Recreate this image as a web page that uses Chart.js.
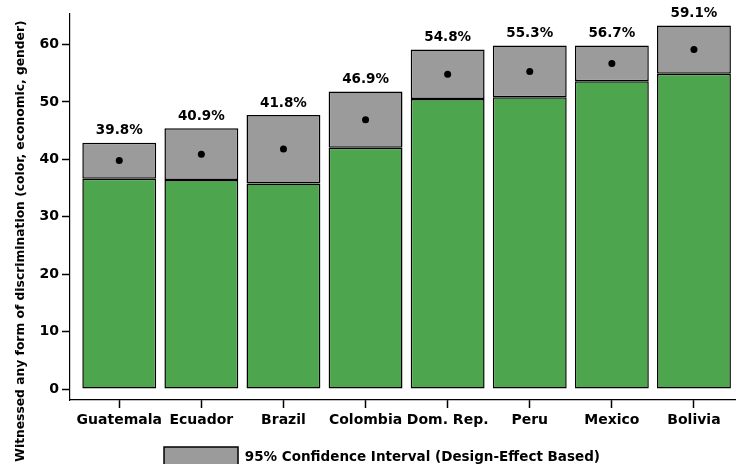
<!DOCTYPE html>
<html>
<head>
<meta charset="utf-8">
<script src="https://cdn.jsdelivr.net/npm/chart.js@4"></script>
<style>
    body { margin: 0; background: #ffffff; }
    #wrap { width: 739px; height: 464px; }
</style>
</head>
<body>
<div id="wrap"><canvas id="grafico" width="739" height="464"></canvas></div>
<script>
const categories = ["Guatemala", "Ecuador", "Brazil", "Colombia", "Dom. Rep.", "Peru", "Mexico", "Bolivia"];
const means = [39.8, 40.9, 41.8, 46.9, 54.8, 55.3, 56.7, 59.1];
const ciLower = [36.6, 36.4, 35.8, 42.0, 50.5, 50.8, 53.6, 54.9];
const ciUpper = [42.9, 45.4, 47.7, 51.8, 59.1, 59.8, 59.8, 63.3];
const yTicks = [0, 10, 20, 30, 40, 50, 60];
const yTitle = "Witnessed any form of discrimination (color, economic, gender)";
const legendLabel = "95% Confidence Interval (Design-Effect Based)";

const FONTE = "'DejaVu Sans', sans-serif";

// rótulos de valor em cima das barras + título do eixo y
const rotulosPlugin = {
    id: "rotulos",
    afterDatasetsDraw(chart) {
        const { ctx, scales } = chart;
        ctx.save();
        ctx.fillStyle = "#000";
        ctx.textAlign = "center";
        ctx.textBaseline = "middle";
        ctx.font = "bold 13.5px " + FONTE;
        means.forEach((m, i) => {
            const x = scales.x.getPixelForValue(i);
            const y = scales.y.getPixelForValue(ciUpper[i]) - 12;
            ctx.fillText(m.toFixed(1) + "%", x, y);
        });
        ctx.restore();
    },
    afterDraw(chart) {
        const { ctx } = chart;
        ctx.save();
        ctx.fillStyle = "#000";
        ctx.font = "bold 12.3px " + FONTE;
        ctx.textAlign = "center";
        ctx.textBaseline = "alphabetic";
        ctx.translate(24, 241);
        ctx.rotate(-Math.PI / 2);
        ctx.fillText(yTitle, 0, 0);
        ctx.restore();
    }
};

Chart.defaults.color = "#000";
Chart.defaults.font.family = FONTE;

new Chart(document.getElementById("grafico"), {
    type: "bar",
    data: {
        datasets: [
            {
                type: "line",
                label: "mean",
                data: means.map((v, i) => ({ x: i, y: v })),
                showLine: false,
                pointRadius: 3.5,
                pointBackgroundColor: "#000",
                pointBorderWidth: 0,
                order: 0
            },
            {
                label: legendLabel,
                data: ciLower.map((lo, i) => ({ x: i, y: [lo, ciUpper[i]] })),
                backgroundColor: "#9b9b9b",
                borderColor: "#000",
                borderWidth: 1.5,
                borderSkipped: false,
                grouped: false,
                barPercentage: 0.9,
                categoryPercentage: 1,
                order: 1
            },
            {
                label: "base",
                data: ciLower.map((lo, i) => ({ x: i, y: lo })),
                backgroundColor: "#4da64d",
                borderColor: "#000",
                borderWidth: 1.5,
                borderSkipped: false,
                grouped: false,
                barPercentage: 0.9,
                categoryPercentage: 1,
                order: 2
            }
        ]
    },
    plugins: [rotulosPlugin],
    options: {
        responsive: false,
        animation: false,
        layout: { padding: { top: 14, left: 25, right: 0, bottom: 0 } },
        plugins: {
            tooltip: { enabled: false },
            legend: {
                position: "bottom",
                maxHeight: 25,
                labels: {
                    filter: item => item.text === legendLabel,
                    boxWidth: 74,
                    boxHeight: 20,
                    padding: 8,
                    color: "#000",
                    font: { size: 13.5, weight: "bold" }
                }
            }
        },
        scales: {
            x: {
                type: "linear",
                offset: false,
                min: -0.6,
                max: 7.5,
                afterBuildTicks: scale => {
                    scale.ticks = categories.map((_, i) => ({ value: i }));
                },
                afterFit: scale => { scale.height = 39; },
                border: { display: true, color: "#000", width: 1.2 },
                grid: { display: true, offset: false, drawOnChartArea: false, drawTicks: true, tickLength: 8, tickColor: "#000", tickWidth: 1.5, color: "#000" },
                ticks: {
                    autoSkip: false,
                    maxRotation: 0,
                    padding: 4,
                    color: "#000",
                    font: { size: 14, weight: "bold" },
                    callback: v => categories[v]
                }
            },
            y: {
                min: -1.9,
                max: 65.3,
                afterBuildTicks: scale => {
                    scale.ticks = yTicks.map(v => ({ value: v }));
                },
                afterFit: scale => { scale.width = 45; },
                border: { display: true, color: "#000", width: 1.2 },
                grid: { display: true, drawOnChartArea: false, drawTicks: true, tickLength: 8, tickColor: "#000", tickWidth: 1.5, color: "#000" },
                ticks: {
                    padding: 3,
                    color: "#000",
                    font: { size: 14, weight: "bold" }
                }
            }
        }
    }
});
</script>
</body>
</html>
